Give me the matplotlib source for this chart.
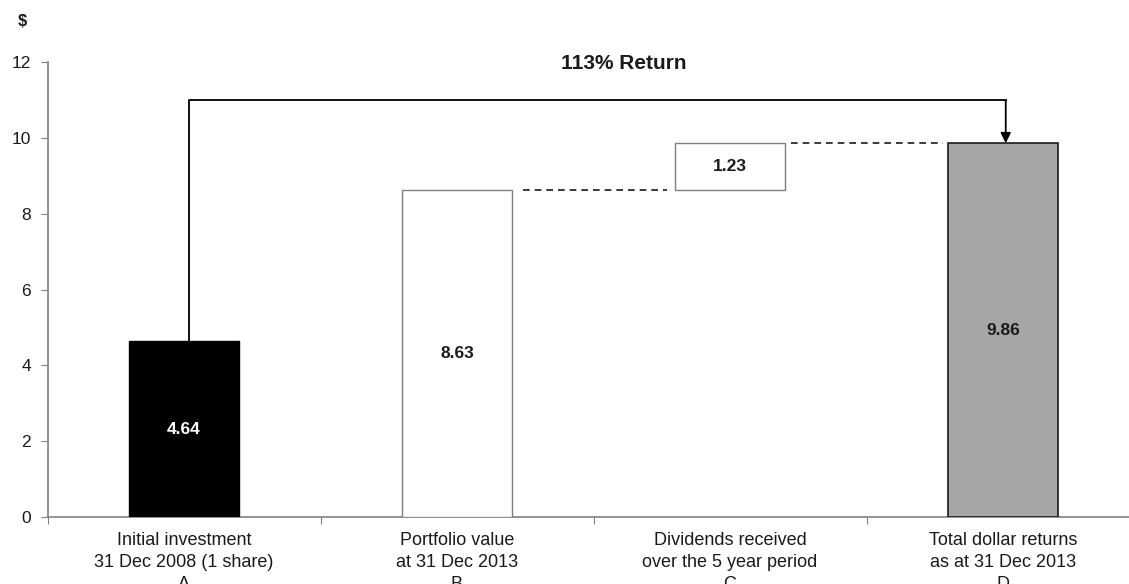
import matplotlib.pyplot as plt
from matplotlib.ticker import FixedLocator

plt.rcParams['font.family'] = ['Liberation Sans', 'DejaVu Sans']

categories = ["Initial investment\n31 Dec 2008 (1 share)\nA",
              "Portfolio value\nat 31 Dec 2013\nB",
              "Dividends received\nover the 5 year period\nC",
              "Total dollar returns\nas at 31 Dec 2013\nD"]
initial = 4.64
portfolio = 8.63
dividends = 1.23
total = 9.86
return_label = "113% Return"

fig = plt.figure(figsize=(11.29, 5.84), dpi=100)
ax = fig.add_axes([47.5 / 1129, 67 / 584, 1092 / 1129, 455 / 584])

w = 0.4
ax.bar(0, initial, width=w, color="black", edgecolor="black", linewidth=1, zorder=3)
ax.bar(1, portfolio, width=w, color="white", edgecolor="#7f7f7f", linewidth=1, zorder=3)
ax.bar(2, dividends, bottom=portfolio, width=w, color="white", edgecolor="#7f7f7f",
       linewidth=1, zorder=3)
ax.bar(3, total, width=w, color="#a6a6a6", edgecolor="#1a1a1a", linewidth=1.2, zorder=3)

lab = dict(ha="center", va="center", fontsize=12.5, fontweight="bold", zorder=5)
ax.text(0, initial / 2, f"{initial:.2f}", color="white", **lab)
ax.text(1, portfolio / 2, f"{portfolio:.2f}", color="#1a1a1a", **lab)
ax.text(2, portfolio + dividends / 2, f"{dividends:.2f}", color="#1a1a1a", **lab)
ax.text(3, total / 2, f"{total:.2f}", color="#1a1a1a", **lab)

# dashed connectors
ax.plot([1 + w / 2 + 0.04, 2 - w / 2 - 0.03], [portfolio, portfolio],
        ls=(0, (4, 3)), color="#1a1a1a", lw=1.2, zorder=2)
ax.plot([2 + w / 2 + 0.025, 3 - w / 2 - 0.02], [total, total],
        ls=(0, (4, 3)), color="#1a1a1a", lw=1.2, zorder=2)

# return arrow
top = 11.0
ax.plot([0.02, 0.02, 3.01], [initial, top, top], color="black", lw=1.3, zorder=4)
ax.annotate("", xy=(3.01, total), xytext=(3.01, top),
            arrowprops=dict(arrowstyle="-|>", color="black", lw=1.3,
                            mutation_scale=15, shrinkA=0, shrinkB=0), zorder=4)
ax.text(1.61, 11.97, return_label, ha="center", va="center", fontsize=15,
        fontweight="bold", color="#1a1a1a")

ax.set_ylim(0, 12)
ax.set_xlim(-0.5, 3.5)
ax.set_yticks(range(0, 13, 2))
ax.xaxis.set_major_locator(FixedLocator([-0.5, 0.5, 1.5, 2.5, 3.5]))
ax.xaxis.set_major_formatter(plt.NullFormatter())
ax.set_xticks(range(4), minor=True)
ax.set_xticklabels(categories, minor=True, fontsize=13, color="#1a1a1a", linespacing=1.36)
ax.tick_params(axis="x", which="minor", length=0, pad=11)
ax.tick_params(axis="x", which="major", length=5, color="#808080", direction="out")
ax.tick_params(axis="y", length=5, color="#808080", labelsize=12.5, labelcolor="#1a1a1a",
               pad=7)

for s in ["top", "right"]:
    ax.spines[s].set_visible(False)
for s in ["left", "bottom"]:
    ax.spines[s].set_color("#808080")
    ax.spines[s].set_linewidth(1.2)

fig.text(22 / 1129, 1 - 22 / 584, "$", ha="center", va="center", fontsize=12,
         fontweight="bold", color="#1a1a1a")

fig.savefig("out.png", dpi=100)
